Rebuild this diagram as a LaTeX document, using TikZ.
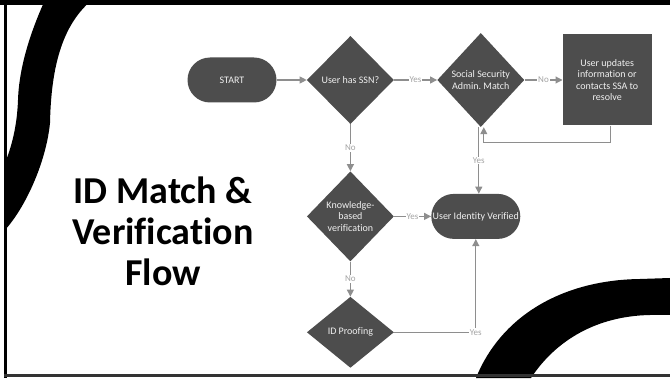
\documentclass[tikz,border=0pt]{standalone}
\usepackage{fontspec}
\setmainfont{Carlito}[Ligatures=NoCommon]
\frenchspacing
\usetikzlibrary{positioning,shapes.geometric,arrows.meta}

\definecolor{boxgray}{HTML}{4D4D4D}
\definecolor{linegray}{HTML}{8E8E8E}
\definecolor{labelgray}{HTML}{A3A3A3}

\begin{document}
\begin{tikzpicture}
  [x=1pt, y=1pt,
   every node/.style={font=\fontsize{10}{11.5}\selectfont, text=white!94!black, inner sep=0pt},
   terminal/.style={fill=boxgray, rounded corners=22.5pt, minimum width=89pt, minimum height=45pt},
   decision/.style={diamond, fill=boxgray, minimum width=87pt, minimum height=88pt, align=center},
   process/.style={fill=boxgray, minimum width=89pt, minimum height=91pt, align=center},
   flow/.style={draw=linegray, line width=1.1pt, -{Triangle[length=7pt,width=7pt]}},
   answer/.style={fill=white, text=labelgray, font=\fontsize{9}{10}\selectfont, inner sep=1pt}]
  \useasboundingbox (0,0) rectangle (670,378);

  % black swooshes
  \fill (45,378) .. controls (30,345) and (19,310) .. (18,278)
        .. controls (17,250) and (11,230) .. (5,215) -- (5,148)
        .. controls (25,170) and (46,215) .. (50,255)
        .. controls (51,300) and (58,350) .. (92,378) -- cycle;
  \fill (476,0) .. controls (500,60) and (560,98) .. (640,99) -- (670,100)
        -- (670,63) -- (650,63) .. controls (597,62) and (556,38) .. (531,0) -- cycle;

  % frame
  \fill (0,373) rectangle (670,378);
  \draw[line width=2.5pt] (5.5,378) -- (5.5,0);
  \draw[line width=3pt, black!80] (4,2.5) -- (670,2.5);

  \node[font=\fontsize{38}{41}\selectfont\bfseries, text=black, align=center] (title) at (163,147)
    {ID Match \&\\Verification\\Flow};

  % flow chart
  \node[terminal] (start) at (232,298) {START};
  \node[decision, right=30pt of start] (ssn) {User has SSN?};
  \node[decision, right=43pt of ssn, minimum height=94pt] (ssa) {Social Security\\Admin. Match};
  \node[process, right=38pt of ssa] (update) {User updates\\information or\\contacts SSA to\\resolve};
  \node[decision, below=47pt of ssn, minimum height=90pt] (kbv) {Knowledge-\\based\\verification};
  \node[decision, below=35pt of kbv, minimum height=71pt] (proof) {ID Proofing};
  \node[terminal, right=37pt of kbv] (verified) {User Identity Verified};

  \draw[flow] (start) -- (ssn);
  \draw[flow] (ssn) -- node[answer] {Yes} (ssa);
  \draw[flow] (ssa) -- node[answer] {No} (update);
  \draw[flow] ([xshift=3pt]update.south) -- ++(0,-17) -| ([xshift=3pt]ssa.south);
  \draw[flow] ([xshift=-2pt]ssa.south) -- node[answer] {Yes} ([xshift=-2pt]ssa.south |- verified.north);
  \draw[flow] (ssn) -- node[answer] {No} (kbv);
  \draw[flow] (kbv) -- node[answer] {Yes} (verified);
  \draw[flow] (kbv) -- node[answer] {No} (proof);
  \draw[flow] (proof) -| node[answer] {Yes} (verified);
\end{tikzpicture}
\end{document}
